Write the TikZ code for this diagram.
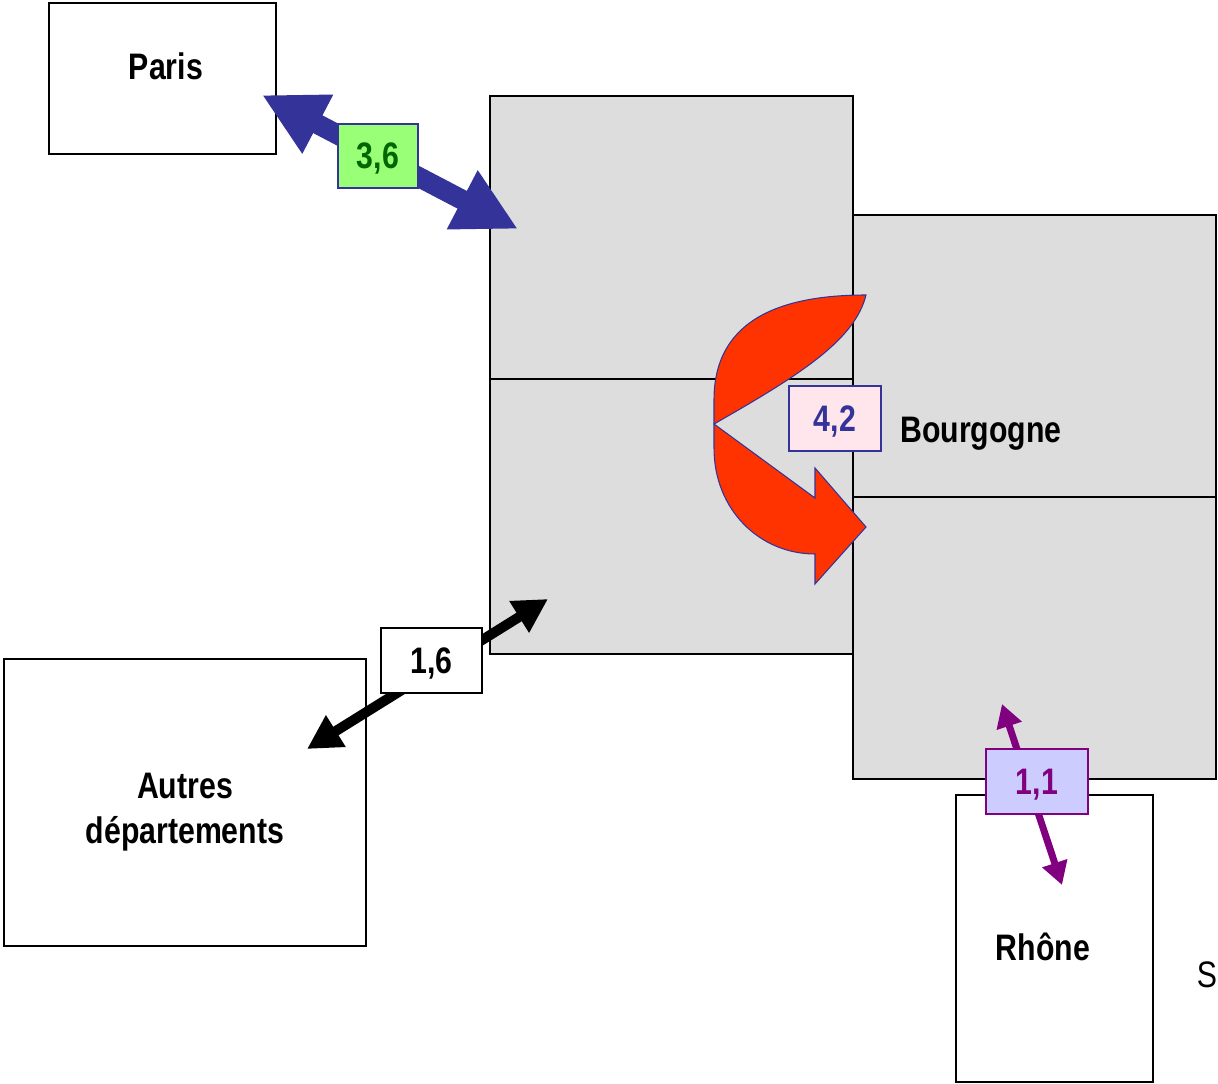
\documentclass[tikz,border=0pt]{standalone}
\usepackage{fontspec}
\setmainfont{Liberation Sans}[FakeStretch=0.82]
\usetikzlibrary{arrows.meta}

\definecolor{navy}{HTML}{333399}
\definecolor{zone}{HTML}{DDDDDD}
\definecolor{flux}{HTML}{FF3300}
\definecolor{vert}{HTML}{99FF77}
\definecolor{vertfonce}{HTML}{006600}
\definecolor{rose}{HTML}{FFE6EC}
\definecolor{lavande}{HTML}{CCCCFF}
\definecolor{prune}{HTML}{800080}

\begin{document}
\begin{tikzpicture}[x=0.02cm, y=-0.02cm,
    box/.style={draw, line width=0.04cm, inner sep=0pt},
    zonebox/.style={box, fill=zone, minimum width=7.26cm, minimum height=5.64cm},
    tag/.style={draw, line width=0.04cm, minimum height=1.3cm, inner sep=0pt, text depth=0pt, font=\fontsize{21}{25}\selectfont\bfseries},
    txt/.style={anchor=base, align=center, font=\fontsize{21}{25.5}\selectfont\bfseries}]
  \useasboundingbox (0,0) rectangle (1218,1084);

  \node[zonebox, minimum height=5.66cm] (nordA) at (671.5,237.5) {};
  \node[zonebox, minimum height=5.5cm] (sudA) at (671.5,516.5) {};
  \node[zonebox] (nordB) at (1034.5,356) {};
  \node[zonebox] (sudB) at (1034.5,638) {};
  \node[box, minimum width=4.54cm, minimum height=3.02cm] (paris) at (162.5,78.5) {};
  \node[box, minimum width=7.24cm, minimum height=5.74cm] (autres) at (185,802.5) {};
  \node[box, minimum width=3.94cm, minimum height=5.74cm] (rhone) at (1054.5,938.5) {};

  \node[txt] (parisT) at (166,80) {Paris};
  \node[txt] (autresT) at (185,843) {Autres\\départements};
  \node[txt] (rhoneT) at (1043,960) {Rhône};
  \node[txt] (bourgT) at (981,443) {Bourgogne};
  \node[txt, font=\fontsize{21}{25.5}\selectfont] (sT) at (1207,987) {S};

  % flux interne
  \filldraw[fill=flux, draw=navy, line width=0.6pt]
    (866,295) .. controls (780,295) and (714,320) .. (714,400)
    -- (714,448) .. controls (714,510) and (760,554) .. (815,554)
    -- (815,584) -- (866,527) -- (815,468) -- (815,498) -- (714,424)
    .. controls (800,375) and (855,340) .. (866,295) -- cycle;
  \node[tag, fill=rose, draw=navy, text=navy, minimum width=1.84cm] (lab42) at (835,418.5) {4,2};

  % Paris
  \coordinate (p1) at (262,95);
  \coordinate (p2) at (518,229);
  \draw[navy, line width=0.4cm, {Triangle[length=1.26cm,width=1.24cm]}-{Triangle[length=1.26cm,width=1.24cm]}] (p1) -- (p2);
  \node[tag, fill=vert, draw=navy, text=vertfonce, minimum width=1.6cm] (lab36) at (378,156) {3,6};

  % autres departements
  \coordinate (a1) at (307,749);
  \coordinate (a2) at (548,599);
  \draw[black, line width=0.2cm, {Triangle[length=0.68cm,width=0.7cm]}-{Triangle[length=0.68cm,width=0.7cm]}] (a1) -- (a2);
  \node[tag, fill=white, minimum width=2.02cm] (lab16) at (431.5,660.5) {1,6};

  % Rhone
  \coordinate (r1) at (1002,704);
  \coordinate (r2) at (1062,885);
  \draw[prune, line width=0.14cm, {Triangle[length=0.46cm,width=0.5cm]}-{Triangle[length=0.46cm,width=0.5cm]}] (r1) -- (r2);
  \node[tag, fill=lavande, draw=prune, text=prune, minimum width=2.04cm] (lab11) at (1037,781.5) {1,1};
\end{tikzpicture}
\end{document}
